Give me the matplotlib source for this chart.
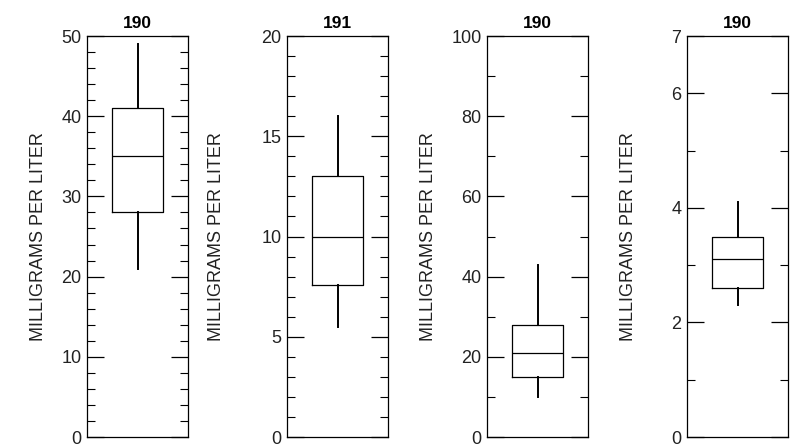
import numpy as np
import matplotlib.pyplot as plt
from matplotlib.ticker import MultipleLocator, FixedLocator

plt.rcParams['font.family'] = ['Liberation Sans', 'DejaVu Sans']

# box statistics
titles = ['190', '191', '190', '190']
whislo = [21, 5.5, 10, 2.3]
q1 = [28, 7.6, 15, 2.6]
med = [35, 10, 21, 3.1]
q3 = [41, 13, 28, 3.5]
whishi = [49, 16, 43, 4.1]
ymax = [50, 20, 100, 7]
major = [[0, 10, 20, 30, 40, 50], [0, 5, 10, 15, 20],
         [0, 20, 40, 60, 80, 100], [0, 2, 4, 6, 7]]
minor = [2, 1, 10, 1]
label_x = [-40, -62, -50, -50]   # pixels left of the axis

fig = plt.figure(figsize=(8.05, 4.44), dpi=100)

for i in range(4):
    ax = fig.add_axes([(87 + 200 * i) / 805, 7 / 444, 101 / 805, 401 / 444])
    stats = [dict(whislo=whislo[i], q1=q1[i], med=med[i], q3=q3[i],
                  whishi=whishi[i], fliers=[])]
    ax.bxp(stats, positions=[0.5], widths=0.5, showcaps=False,
           boxprops=dict(color='black', lw=0.9),
           medianprops=dict(color='black', lw=0.9),
           whiskerprops=dict(color='black', lw=1.4))
    ax.set_xlim(0, 1)
    ax.set_ylim(0, ymax[i])
    ax.set_xticks([])
    ax.yaxis.set_major_locator(FixedLocator(major[i]))
    if i == 3:
        ax.yaxis.set_minor_locator(FixedLocator([1, 3, 5]))
    else:
        ax.yaxis.set_minor_locator(MultipleLocator(minor[i]))
    ax.tick_params(axis='y', which='major', direction='in', length=12,
                   width=0.9, left=True, right=True, labelsize=13, pad=4,
                   labelcolor='#222222')
    ax.tick_params(axis='y', which='minor', direction='in', length=6,
                   width=0.8, left=True, right=True)
    for s in ax.spines.values():
        s.set_linewidth(0.9)
    ax.set_title(titles[i], fontsize=12.5, fontweight='bold', pad=6)
    ax.set_ylabel('MILLIGRAMS PER LITER', fontsize=13, color='#222222')
    ax.yaxis.set_label_coords(label_x[i] / 101, 0.5)

fig.savefig('out.png', dpi=100)
